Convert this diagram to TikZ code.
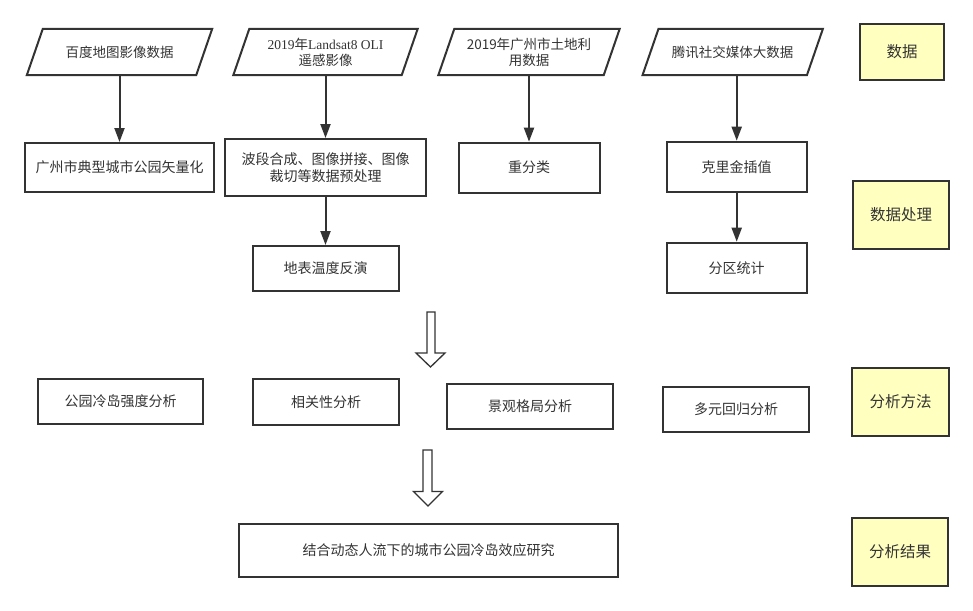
\documentclass[tikz,border=0pt]{standalone}
\usepackage{fontspec}
\setmainfont{Noto Sans CJK SC}
\newfontfamily\lserif{Liberation Serif}
\usetikzlibrary{arrows.meta,calc}
\definecolor{linec}{HTML}{333333}
\definecolor{ylw}{HTML}{FFFFC0}
\newcommand{\parabox}[5]{%
  \node[ptext, minimum width=#4] (#1) at (#2,#3) {#5};
  \draw[paraline] ([xshift=-8pt]#1.south west) -- ([xshift=-8pt]#1.south east)
    -- ([xshift=8pt]#1.north east) -- ([xshift=8pt]#1.north west) -- cycle;
}
\begin{document}
\begin{tikzpicture}[x=1pt,y=-1pt,
  box/.style={draw=linec, line width=2pt, fill=white, text=linec,
    font=\fontsize{14}{17.5}\selectfont, align=center, inner sep=0pt},
  ptext/.style={text=linec, font=\fontsize{13.5}{16}\selectfont, align=center,
    inner sep=0pt, minimum height=46pt},
  paraline/.style={draw=linec, line width=2pt},
  note/.style={draw=linec, line width=2pt, fill=ylw, text=linec,
    font=\fontsize{15.5}{18}\selectfont, inner sep=0pt},
  conn/.style={draw=linec, line width=2pt, -{Triangle[length=14pt,width=10pt]}},
  hollow/.style={draw=linec, line width=1.3pt, fill=white, line join=miter}]
\fill[white] (0,0) rectangle (973,610);
\useasboundingbox (0,0) rectangle (973,610);

% data row
\parabox{d1}{119.5}{52}{169pt}{百度地图影像数据}
\parabox{d2}{325.5}{52}{168pt}{{\lserif 2019}年{\lserif Landsat8 OLI}\\遥感影像}
\parabox{d3}{529}{52}{165pt}{2019年广州市土地利\\用数据}
\parabox{d4}{732.7}{52}{164pt}{腾讯社交媒体大数据}
\node[note, minimum width=84pt, minimum height=56pt] (y1) at (902,52) {数据};

% processing row
\node[box, minimum width=189pt, minimum height=49pt] (b1) at (119.5,167.5) {广州市典型城市公园矢量化};
\node[box, minimum width=201pt, minimum height=57pt] (b2) at (325.5,167.5) {波段合成、图像拼接、图像\\裁切等数据预处理};
\node[box, minimum width=146pt, minimum height=45pt] (b3) at (325.5,268.5) {地表温度反演};
\node[box, minimum width=141pt, minimum height=50pt] (b4) at (529,167.7) {重分类};
\node[box, minimum width=140pt, minimum height=50pt] (b5) at (736.7,166.7) {克里金插值};
\node[box, minimum width=140pt, minimum height=50pt] (b6) at (736.7,267.7) {分区统计};
\node[note, minimum width=96.6pt, minimum height=68.6pt] (y2) at (901,215) {数据处理};

% connectors
\draw[conn] (d1.south) -- (b1.north);
\draw[conn] (d2.south) -- (b2.north);
\draw[conn] (b2.south) -- (b3.north);
\draw[conn] (d3.south) -- (b4.north);
\draw[conn] (b5.north |- d4.south) -- (b5.north);
\draw[conn] (b5.south) -- (b6.north);

% hollow arrow 1
\draw[hollow] (427,312) -- (435,312) -- (435,353) -- (445,353) -- (430.5,367)
  -- (416,353) -- (427,353) -- cycle;

% analysis row
\node[box, minimum width=165pt, minimum height=45pt] (a1) at (120.5,401.5) {公园冷岛强度分析};
\node[box, minimum width=146pt, minimum height=46pt] (a2) at (326,402) {相关性分析};
\node[box, minimum width=166pt, minimum height=45pt] (a3) at (530,406.5) {景观格局分析};
\node[box, minimum width=146pt, minimum height=45pt] (a4) at (736,409.5) {多元回归分析};
\node[note, minimum width=97pt, minimum height=68pt] (y3) at (900.5,402) {分析方法};

% hollow arrow 2
\draw[hollow] (423,450) -- (432,450) -- (432,491.5) -- (442.5,491.5) -- (428,506)
  -- (413.5,491.5) -- (423,491.5) -- cycle;

% result row
\node[box, minimum width=379pt, minimum height=53pt] (r1) at (428.5,550.5) {结合动态人流下的城市公园冷岛效应研究};
\node[note, minimum width=96pt, minimum height=68pt] (y4) at (900,552) {分析结果};
\end{tikzpicture}
\end{document}
